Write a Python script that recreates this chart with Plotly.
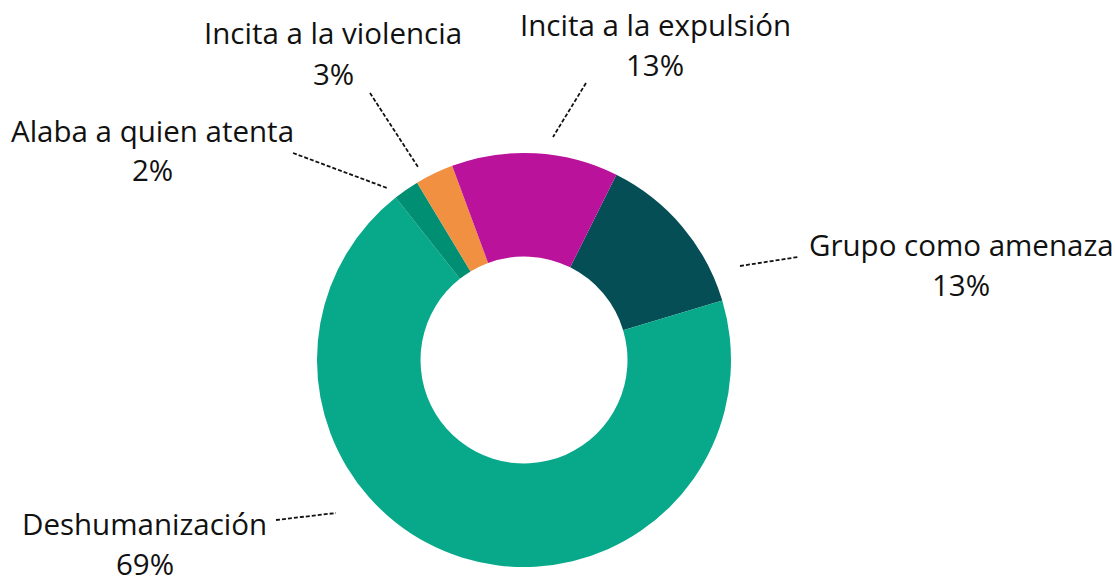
import plotly.graph_objects as go

# Slice data (clockwise, starting with "Grupo como amenaza")
categories = [
    "Grupo como amenaza",
    "Deshumanización",
    "Alaba a quien atenta",
    "Incita a la violencia",
    "Incita a la expulsión",
]
values = [13, 69, 2, 3, 13]
colors = ["#064E56", "#08A88A", "#008F72", "#F09040", "#BA129B"]

W, H = 1115, 577

# Label placement (pixels): name centre, then leader line start/end
label_pos = {
    "Grupo como amenaza": (961, 244),
    "Deshumanización": (145, 523),
    "Alaba a quien atenta": (152, 130),
    "Incita a la violencia": (333, 33),
    "Incita a la expulsión": (655, 25),
}
leaders = {
    "Grupo como amenaza": ((740, 266), (798, 257)),
    "Deshumanización": ((276, 520), (336, 513)),
    "Alaba a quien atenta": ((293, 153), (387, 188)),
    "Incita a la violencia": ((370, 93), (418, 167)),
    "Incita a la expulsión": ((586, 83), (553, 137)),
}


def px(x, y):
    # pixel -> paper coords (no margins)
    return x / W, 1 - y / H


# Donut centre (524, 360), outer radius 207
cx, cy, r = 524, 360, 207
x0, y1 = px(cx - r, cy - r)
x1, y0 = px(cx + r, cy + r)

fig = go.Figure(
    go.Pie(
        labels=categories,
        values=values,
        hole=0.5,
        sort=False,
        direction="clockwise",
        rotation=26.5,
        marker=dict(colors=colors, line=dict(width=0)),
        textinfo="none",
        hoverinfo="label+percent",
        domain=dict(x=[x0, x1], y=[y0, y1]),
    )
)

font = dict(family="Open Sans", size=29.5, color="#111111")
annotations = []
shapes = []
for cat, val in zip(categories, values):
    lx, ly = label_pos[cat]
    ax, ay = px(lx, ly)
    annotations.append(
        dict(x=ax, y=ay, xref="paper", yref="paper", text=cat, showarrow=False,
             xanchor="center", yanchor="middle", font=font)
    )
    bx, by = px(lx, ly + 40)
    annotations.append(
        dict(x=bx, y=by, xref="paper", yref="paper", text=f"{val}%", showarrow=False,
             xanchor="center", yanchor="middle", font=font)
    )
    (sx, sy), (ex, ey) = leaders[cat]
    p0 = px(sx, sy)
    p1 = px(ex, ey)
    shapes.append(
        dict(type="line", xref="paper", yref="paper",
             x0=p0[0], y0=p0[1], x1=p1[0], y1=p1[1],
             line=dict(color="#111111", width=1.8, dash="4px,2px"))
    )

fig.update_layout(
    width=W,
    height=H,
    margin=dict(l=0, r=0, t=0, b=0),
    paper_bgcolor="white",
    plot_bgcolor="white",
    showlegend=False,
    annotations=annotations,
    shapes=shapes,
)

# drop the default page margin so the figure fills the window exactly
fig.write_html(
    "out.html",
    config={"displayModeBar": False},
    post_script="document.body.style.margin='0';document.body.style.overflow='hidden';",
)
